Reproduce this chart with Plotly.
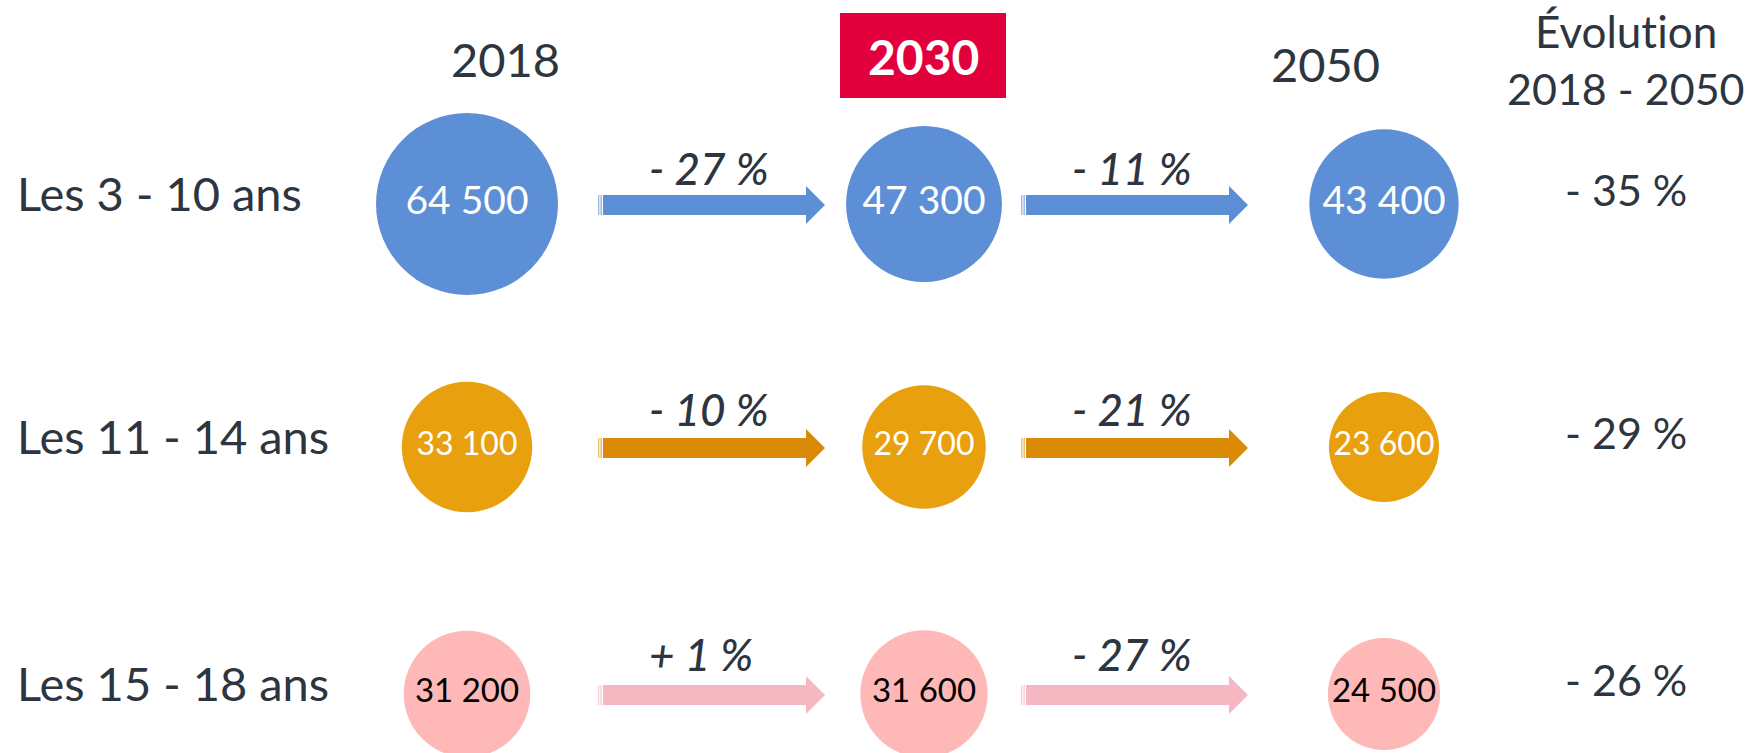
import plotly.graph_objects as go
import math

# ---------------- data ----------------
groups = ["Les 3 - 10 ans", "Les 11 - 14 ans", "Les 15 - 18 ans"]
years = ["2018", "2030", "2050"]
pop_2018 = [64500, 33100, 31200]
pop_2030 = [47300, 29700, 31600]
pop_2050 = [43400, 23600, 24500]
evol_2018_2030 = ["- 27 %", "- 10 %", "+ 1 %"]
evol_2030_2050 = ["- 11 %", "- 21 %", "- 27 %"]
evol_2018_2050 = ["- 35 %", "- 29 %", "- 26 %"]
evol_header = ["Évolut\u200cion", "2018 - 2050"]

# ---------------- styling / layout ----------------
W, H = 1750, 753
FONT = "Lato"
TXT = "#2d3540"
circle_colors = ["#5d8fd6", "#e8a00e", "#ffb8b8"]
arrow_colors = ["#5b8ed5", "#d98b08", "#f5b7c2"]
stripe_colors = ["#9dbbe6", "#ecbf6f", "#f9d3da"]
num_colors = ["white", "white", "black"]
num_sizes = [39, 32, 33]

col_x = [467, 924, 1384]
row_y = [204, 447, 694]
max_diam = 182.0
max_val = max(pop_2018 + pop_2030 + pop_2050)

def diam(v):
    return max_diam * math.sqrt(v / max_val)

def fmt(v):
    return f"{v:,}".replace(",", " ")

fig = go.Figure()
series = [pop_2018, pop_2030, pop_2050]
shapes = []
annotations = []

# arrows between columns (drawn first so circles sit on top)
arrow_spans = [(598, 825), (1021, 1248)]
labels_by_span = [evol_2018_2030, evol_2030_2050]
label_dy = [-37, -39, -41]
for r in range(3):
    yc = row_y[r] + 1
    for (x0, x1), labs in zip(arrow_spans, labels_by_span):
        bh = 10  # half body thickness
        hh = 19  # half head height
        hl = 19  # head length
        xb = x1 - hl
        shapes.append(dict(type="rect", xref="x", yref="y", x0=x0, x1=x0 + 1.4,
                           y0=yc - bh, y1=yc + bh, fillcolor=stripe_colors[r], line=dict(width=0), layer="below"))
        shapes.append(dict(type="rect", xref="x", yref="y", x0=x0 + 2.4, x1=x0 + 4.0,
                           y0=yc - bh, y1=yc + bh, fillcolor=stripe_colors[r], line=dict(width=0), layer="below"))
        path = (f"M {x0+5},{yc-bh} L {xb},{yc-bh} L {xb},{yc-hh} L {x1},{yc} "
                f"L {xb},{yc+hh} L {xb},{yc+bh} L {x0+5},{yc+bh} Z")
        shapes.append(dict(type="path", xref="x", yref="y", path=path,
                           fillcolor=arrow_colors[r], line=dict(width=0), layer="below"))
        annotations.append(dict(x=x0 + 49, y=yc + label_dy[r], xref="x", yref="y", text=labs[r],
                                showarrow=False, xanchor="left", yanchor="middle",
                                font=dict(family=FONT, size=44, color=TXT, style="italic", weight=500)))

# circles
for r in range(3):
    vals = [s[r] for s in series]
    fig.add_trace(go.Scatter(
        x=col_x, y=[row_y[r]] * 3, mode="markers+text",
        marker=dict(size=[diam(v) for v in vals], sizemode="diameter",
                    color=circle_colors[r], line=dict(width=0), opacity=1),
        text=[fmt(v) for v in vals], textposition="middle center",
        textfont=dict(family=FONT, size=num_sizes[r], color=num_colors[r]),
        hoverinfo="skip", showlegend=False, cliponaxis=False))

# row labels and total evolution
for r in range(3):
    annotations.append(dict(x=15, y=row_y[r] - 11, xref="x", yref="y", text=groups[r],
                            showarrow=False, xanchor="left", yanchor="middle",
                            font=dict(family=FONT, size=47, color=TXT)))
    annotations.append(dict(x=1626, y=row_y[r] - 15, xref="x", yref="y", text=evol_2018_2050[r],
                            showarrow=False, xanchor="center", yanchor="middle",
                            font=dict(family=FONT, size=43, color=TXT)))

# column headers
header_pos = [(505, 58.5), (923, 56), (1325, 63.5)]
for i, (yr, (hx, hy)) in enumerate(zip(years, header_pos)):
    if i == 1:
        shapes.append(dict(type="rect", xref="x", yref="y", x0=840, x1=1006, y0=13, y1=98,
                           fillcolor="#e2003c", line=dict(width=0), layer="below"))
        annotations.append(dict(x=hx, y=hy, xref="x", yref="y", text=f"<b>{yr}</b>",
                                showarrow=False, xanchor="center", yanchor="middle",
                                font=dict(family=FONT, size=48, color="white")))
    else:
        annotations.append(dict(x=hx, y=hy, xref="x", yref="y", text=yr,
                                showarrow=False, xanchor="center", yanchor="middle",
                                font=dict(family=FONT, size=47, color=TXT)))

for txt, hy, sz in zip(evol_header, [31, 88], [44, 43]):
    annotations.append(dict(x=1626, y=hy, xref="x", yref="y", text=txt,
                            showarrow=False, xanchor="center", yanchor="middle",
                            font=dict(family=FONT, size=sz, color=TXT)))

fig.update_layout(
    width=W, height=H,
    margin=dict(l=0, r=0, t=0, b=0),
    paper_bgcolor="white", plot_bgcolor="white",
    xaxis=dict(range=[0, W], visible=False, fixedrange=True),
    yaxis=dict(range=[H, 0], visible=False, fixedrange=True),
    shapes=shapes, annotations=annotations,
)

fig.write_html(
    "out.html",
    config={"displayModeBar": False},
    post_script="document.body.style.margin='0px';document.body.style.padding='0px';"
                "document.body.style.overflow='hidden';",
)
